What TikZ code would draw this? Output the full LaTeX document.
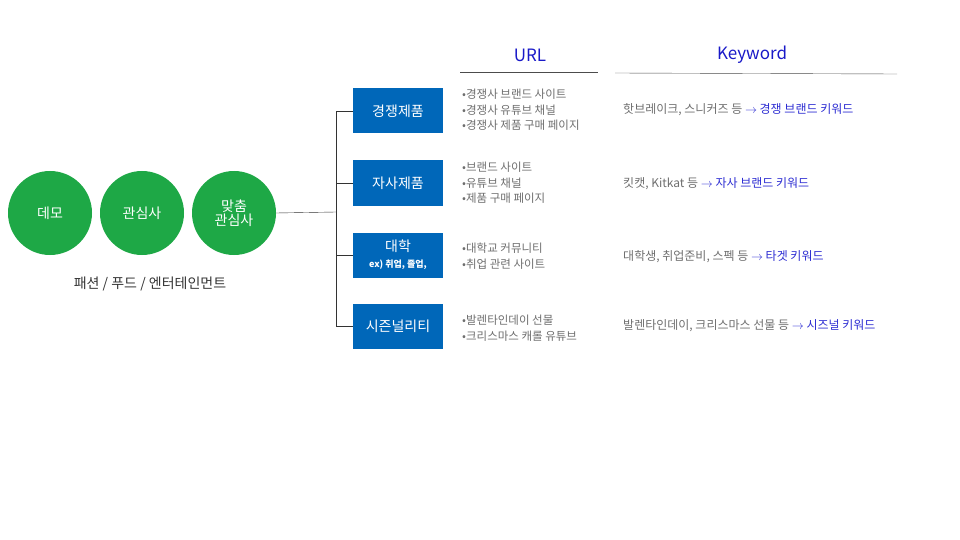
\documentclass[tikz,border=0pt]{standalone}
\usepackage{fontspec}
\setmainfont{Noto Sans CJK KR}
\usetikzlibrary{positioning}
\definecolor{demogreen}{RGB}{30,168,70}
\definecolor{boxblue}{RGB}{0,103,185}
\definecolor{headblue}{RGB}{25,25,200}
\definecolor{kwblue}{RGB}{45,45,210}
\definecolor{txtgray}{RGB}{110,110,110}
\tikzset{
  demo/.style={circle, fill=demogreen, minimum size=84pt, inner sep=0pt, text=white, font=\fontsize{14}{16}\selectfont, align=center},
  catbox/.style={fill=boxblue, minimum width=90pt, minimum height=45pt, inner sep=0pt, text=white, font=\fontsize{14}{16}\selectfont, align=center},
  urltext/.style={anchor=west, text=txtgray, font=\fontsize{11.5}{15.5}\selectfont, align=left, inner sep=0pt},
  kwtext/.style={anchor=west, text=txtgray, font=\fontsize{12}{14}\selectfont, inner sep=0pt},
  head/.style={text=headblue, font=\fontsize{17}{19}\selectfont}
}
\newcommand{\kw}[1]{\textcolor{kwblue}{$\rightarrow$ #1}}
\begin{document}
\begin{tikzpicture}[x=1pt,y=-1pt]
  \useasboundingbox (0,0) rectangle (960,540);
  % demo circles
  \node[demo] (c1) at (50,213) {데모};
  \node[demo] (c2) at (142,213) {관심사};
  \node[demo] (c3) at (234,213) {맞춤\\[-2pt]관심사};
  \node[font=\fontsize{14}{16}\selectfont, text=black!80] (cap) at (150,284) {패션 / 푸드 / 엔터테인먼트};
  % headers
  \node[head] (hurl) at (530,55) {URL};
  \node[head] (hkw) at (752,55) {Keyword};
  \draw[black!70] (460,72) -- (598,72);
  \draw[black!70] (615,73) -- (897,74);
  % category boxes
  \node[catbox] (b1) at (398,111) {경쟁제품};
  \node[catbox] (b2) at (398,183) {자사제품};
  \node[catbox] (b3) at (398,255) {\raisebox{4pt}{대학}\\[-4pt]{\fontsize{9}{10}\selectfont\bfseries ex) 취업, 졸업,}};
  \node[catbox] (b4) at (398,326) {시즌널리티};
  % tree
  \coordinate (fork) at (336,212);
  \draw[black!80] (c3.east) -- (fork);
  \foreach \b in {b1,b2,b3,b4}
    \draw[black!80] (fork) |- (\b.west);
  % url lists
  \node[urltext] (u1) at (462,110) {•경쟁사 브랜드 사이트\\•경쟁사 유튜브 채널\\•경쟁사 제품 구매 페이지};
  \node[urltext] (u2) at (462,183) {•브랜드 사이트\\•유튜브 채널\\•제품 구매 페이지};
  \node[urltext] (u3) at (462,256) {•대학교 커뮤니티\\•취업 관련 사이트};
  \node[urltext] (u4) at (462,328) {•발렌타인데이 선물\\•크리스마스 캐롤 유튜브};
  % keywords
  \node[kwtext] (k1) at (623,110) {핫브레이크, 스니커즈 등 \kw{경쟁 브랜드 키워드}};
  \node[kwtext] (k2) at (623,184) {킷캣, Kitkat 등 \kw{자사 브랜드 키워드}};
  \node[kwtext] (k3) at (623,257) {대학생, 취업준비, 스펙 등 \kw{타겟 키워드}};
  \node[kwtext] (k4) at (623,326) {발렌타인데이,  크리스마스 선물 등 \kw{시즈널 키워드}};
\end{tikzpicture}
\end{document}
